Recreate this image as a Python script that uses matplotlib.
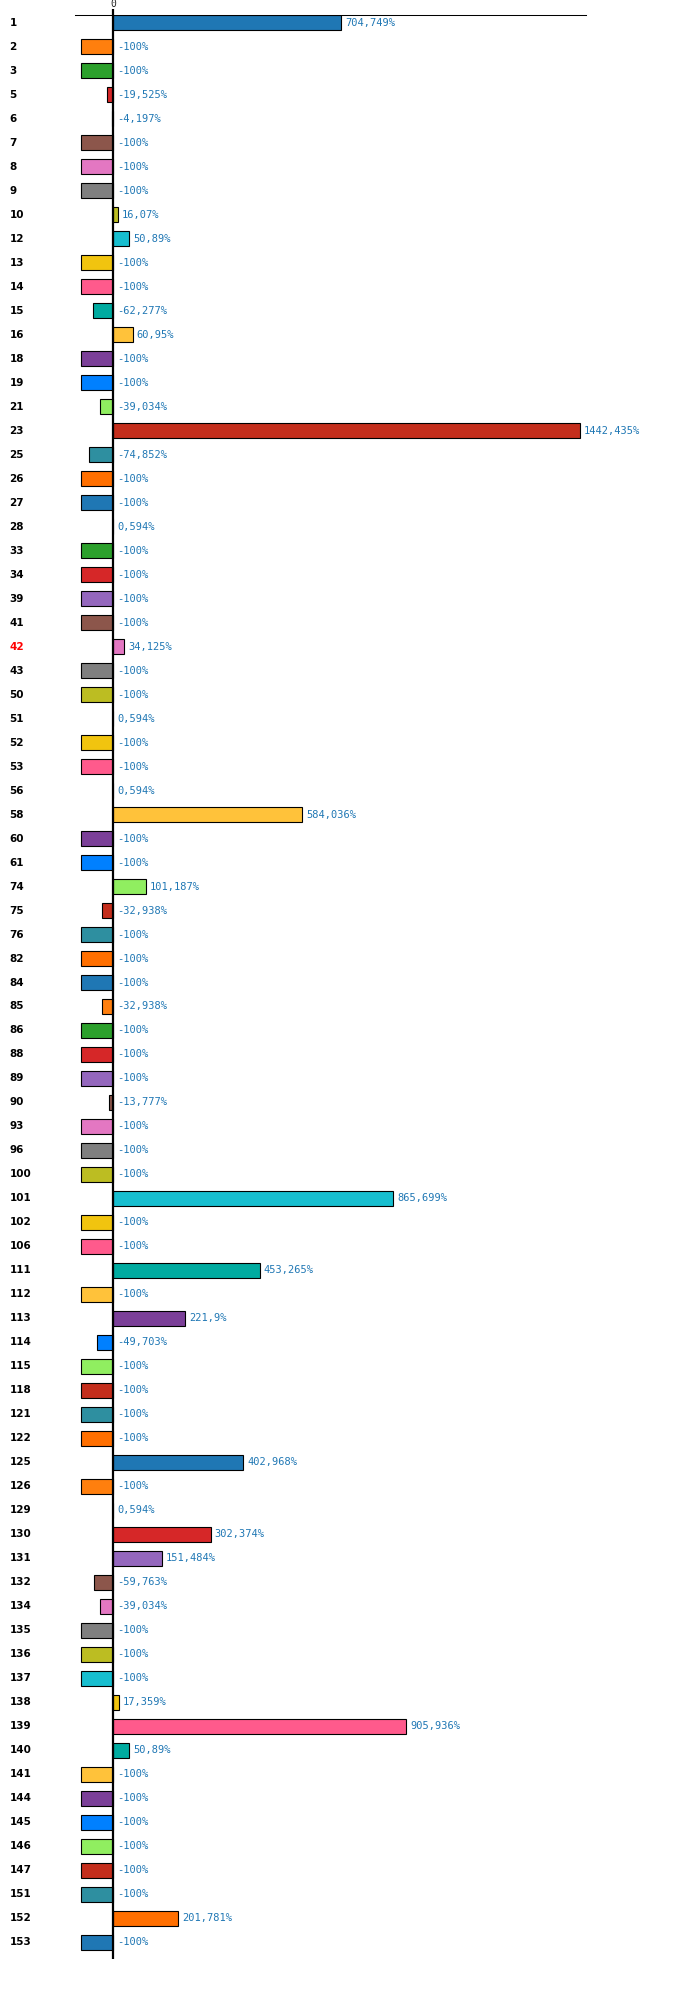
import matplotlib
matplotlib.use("Agg")
import matplotlib.pyplot as plt
import matplotlib.transforms as mtransforms

categories = ["1", "2", "3", "5", "6", "7", "8", "9", "10", "12", "13", "14", "15", "16", "18", "19",
              "21", "23", "25", "26", "27", "28", "33", "34", "39", "41", "42", "43", "50", "51", "52",
              "53", "56", "58", "60", "61", "74", "75", "76", "82", "84", "85", "86", "88", "89", "90",
              "93", "96", "100", "101", "102", "106", "111", "112", "113", "114", "115", "118", "121",
              "122", "125", "126", "129", "130", "131", "132", "134", "135", "136", "137", "138", "139",
              "140", "141", "144", "145", "146", "147", "151", "152", "153"]

values = [704.749, -100, -100, -19.525, -4.197, -100, -100, -100, 16.07, 50.89, -100, -100, -62.277,
          60.95, -100, -100, -39.034, 1442.435, -74.852, -100, -100, 0.594, -100, -100, -100, -100,
          34.125, -100, -100, 0.594, -100, -100, 0.594, 584.036, -100, -100, 101.187, -32.938, -100,
          -100, -100, -32.938, -100, -100, -100, -13.777, -100, -100, -100, 865.699, -100, -100,
          453.265, -100, 221.9, -49.703, -100, -100, -100, -100, 402.968, -100, 0.594, 302.374,
          151.484, -59.763, -39.034, -100, -100, -100, 17.359, 905.936, 50.89, -100, -100, -100,
          -100, -100, -100, 201.781, -100]

palette = ["#1f77b4", "#ff7f0e", "#2ca02c", "#d62728", "#9467bd", "#8c564b", "#e377c2", "#7f7f7f",
           "#bcbd22", "#17becf", "#f1c40f", "#ff5a8c", "#00aba0", "#ffc23a", "#7b3f98", "#0080ff",
           "#90ee60", "#c42e1c", "#2e8fa0", "#ff6f00"]

highlight = "42"

W, H = 700, 1989
fig = plt.figure(figsize=(W / 100, H / 100), dpi=100)
ax = fig.add_axes([75 / W, 30 / H, 511 / W, 1944 / H])

n = len(categories)
ypos = list(range(n))
colors = [palette[i % len(palette)] for i in range(n)]

ax.barh(ypos, values, height=0.646, color=colors, edgecolor="black", linewidth=0.8,
        align="center", zorder=2)

ax.set_xlim(-117.4, 1461.9)
ax.set_ylim(n - 1 + 0.698, -0.323)

for s in ["left", "right", "bottom"]:
    ax.spines[s].set_visible(False)
ax.spines["top"].set_linewidth(0.75)
ax.spines["top"].set_color("black")

ax.axvline(0, color="black", linewidth=1.6, zorder=3)
ax.xaxis.tick_top()
ax.set_xticks([0])
ax.set_xticklabels(["0"], fontsize=7, family="DejaVu Sans Mono", color="#222222")
ax.tick_params(axis="x", length=4, width=1.6, pad=0.5, color="black")
ax.set_yticks([])


def fmt(v):
    s = f"{v:.3f}".rstrip("0").rstrip(".")
    return s.replace(".", ",") + "%"


for i, v in enumerate(values):
    ax.annotate(fmt(v), xy=(max(v, 0), i), xytext=(4, 0), textcoords="offset pixels",
                va="center", ha="left", fontsize=7.5, family="DejaVu Sans Mono",
                color="#1f77b4", zorder=4)

trans = mtransforms.blended_transform_factory(fig.transFigure, ax.transData)
for i, c in enumerate(categories):
    ax.text(9.5 / W, i, c, transform=trans, va="center", ha="left", fontsize=7.5,
            fontweight="bold", family="DejaVu Sans",
            color="#ff0000" if c == highlight else "black", clip_on=False)

fig.savefig("out.png", dpi=100)
